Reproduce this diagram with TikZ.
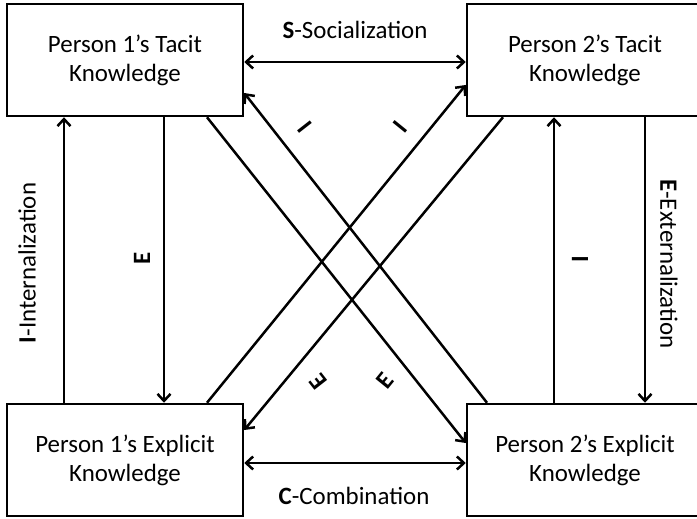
\documentclass[tikz,border=0pt]{standalone}
\usepackage{fontspec}
\setmainfont{Carlito}
\usetikzlibrary{arrows.meta}
\begin{document}
\begin{tikzpicture}[x=1bp,y=-1bp,
  box/.style={draw, line width=2.5bp, minimum width=236bp, minimum height=112bp, inner sep=0pt, align=center, font=\fontsize{25}{29}\selectfont},
  conn/.style={line width=2.5bp},
  tip/.style={-{Straight Barb[length=7bp,width=13bp,line width=2.5bp]}},
  both/.style={{Straight Barb[length=7bp,width=13bp,line width=2.5bp]}-{Straight Barb[length=7bp,width=13bp,line width=2.5bp]}},
  lbl/.style={font=\fontsize{25}{29}\selectfont, inner sep=0pt}]
\useasboundingbox (0,0) rectangle (697,519);
\begin{scope}
\clip (0,0) rectangle (697,519);
\node[box] (t1) at (125,60) {Person 1’s Tacit\\Knowledge};
\node[box] (t2) at (585,60) {Person 2’s Tacit\\Knowledge};
\node[box] (e1) at (125,460) {Person 1’s Explicit\\Knowledge};
\node[box] (e2) at (585,460) {Person 2’s Explicit\\Knowledge};
% horizontal
\draw[conn,both] ([yshift=-2bp]t1.east) -- ([yshift=-2bp]t2.west);
\draw[conn,both] ([yshift=-3bp]e1.east) -- ([yshift=-3bp]e2.west);
% verticals
\draw[conn,tip] ([xshift=-61bp]e1.north) -- ([xshift=-61bp]t1.south);
\draw[conn,tip] ([xshift=39bp]t1.south) -- ([xshift=39bp]e1.north);
\draw[conn,tip] ([xshift=-31bp]e2.north) -- ([xshift=-31bp]t2.south);
\draw[conn,tip] ([xshift=60bp]t2.south) -- ([xshift=60bp]e2.north);
% diagonals
\draw[conn,tip] ([xshift=82bp]t1.south) -- ([yshift=17bp]e2.west);
\draw[conn,tip] ([xshift=-98bp]e2.north) -- ([yshift=-33bp]t1.east);
\draw[conn,tip] ([xshift=-82bp]t2.south) -- ([yshift=30bp]e1.east);
\draw[conn,tip] ([xshift=82bp]e1.north) -- ([yshift=-25bp]t2.west);
% labels
\node[lbl] (ls) at (355,30) {\textbf{S}-Socialization};
\node[lbl] (lc) at (354,496) {\textbf{C}-Combination};
\node[lbl, rotate=90] (li) at (27,263) {\textbf{I}-Internalization};
\node[lbl, rotate=-90] (le) at (669,264) {\textbf{E}-Externalization};
\node[lbl, rotate=90] (lE1) at (142,258) {\textbf{E}};
\node[lbl, rotate=90] (lI2) at (580,259) {\textbf{I}};
\node[lbl, rotate=-52] (dI1) at (305,127) {\textbf{I}};
\node[lbl, rotate=51] (dI2) at (400,127) {\textbf{I}};
\node[lbl, rotate=128] (dE1) at (318,382) {\textbf{E}};
\node[lbl, rotate=51] (dE2) at (385,381) {\textbf{E}};
\end{scope}
\end{tikzpicture}
\end{document}
